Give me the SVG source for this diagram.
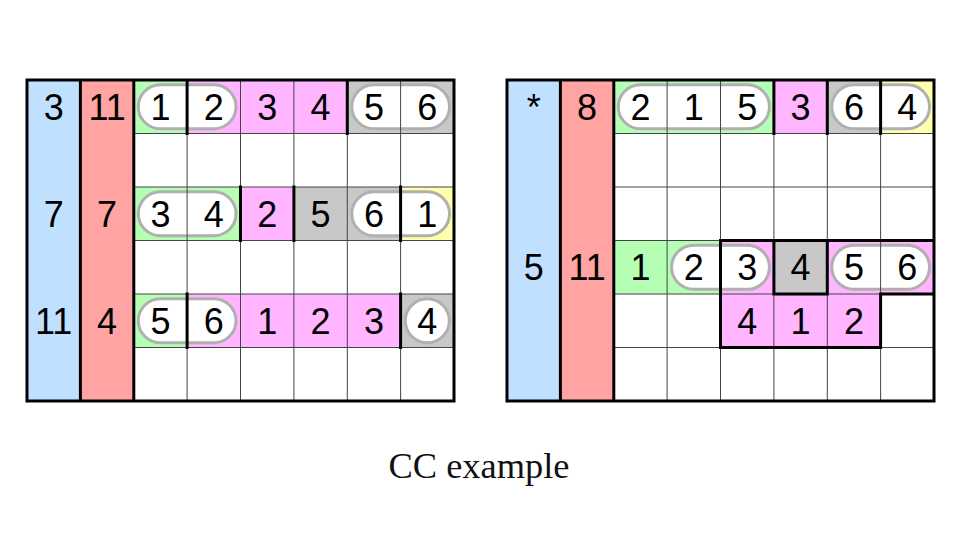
<svg xmlns="http://www.w3.org/2000/svg" width="960" height="540" viewBox="0 0 960 540">
<style>
.bl{fill:#bfe1ff}.rd{fill:#ffa3a3}.gr{fill:#b5ffb5}.pk{fill:#ffb5ff}.gy{fill:#c8c8c8}.ye{fill:#ffffad}
.pill{fill:#fff;stroke:#b0b0b0;stroke-width:3}
.thin{stroke:#444;stroke-width:1;fill:none}
.thick{stroke:#000;stroke-width:3;fill:none;stroke-linecap:square}
.n{font-family:"Liberation Sans",Arial,sans-serif;font-size:36px;fill:#000;text-anchor:middle}
.cap{font-family:"Liberation Serif","Times New Roman",serif;font-size:35px;fill:#111;text-anchor:middle}
</style>
<rect width="960" height="540" fill="#fff"/>

<g id="left-grid">
  <g id="left-fills">
    <rect class="bl" x="27" y="80" width="53.4" height="321"/>
    <rect class="rd" x="80.4" y="80" width="53.4" height="321"/>
    <rect class="gr" x="133.8" y="80" width="53.4" height="53.5"/>
    <rect class="pk" x="187.1" y="80" width="160.2" height="53.5"/>
    <rect class="gy" x="347.3" y="80" width="106.7" height="53.5"/>
    <rect class="gr" x="133.8" y="187" width="106.7" height="53.5"/>
    <rect class="pk" x="240.5" y="187" width="53.4" height="53.5"/>
    <rect class="gy" x="293.9" y="187" width="106.7" height="53.5"/>
    <rect class="ye" x="400.6" y="187" width="53.4" height="53.5"/>
    <rect class="gr" x="133.8" y="294" width="53.4" height="53.5"/>
    <rect class="pk" x="187.1" y="294" width="213.5" height="53.5"/>
    <rect class="gy" x="400.6" y="294" width="53.4" height="53.5"/>
  </g>
  <g id="left-pills">
    <rect class="pill" x="138.3" y="84.75" width="97.7" height="44" rx="22"/>
    <rect class="pill" x="351.8" y="84.75" width="97.7" height="44" rx="22"/>
    <rect class="pill" x="138.3" y="191.75" width="97.7" height="44" rx="22"/>
    <rect class="pill" x="351.8" y="191.75" width="97.7" height="44" rx="22"/>
    <rect class="pill" x="138.3" y="298.75" width="97.7" height="44" rx="22"/>
    <circle class="pill" cx="427.3" cy="320.75" r="22"/>
  </g>
  <path class="thin" d="M133.8,133.5H454M133.8,187H454M133.8,240.5H454M133.8,294H454M133.8,347.5H454M187.1,80V401M240.5,80V401M293.9,80V401M347.3,80V401M400.6,80V401"/>
  <path class="thick" d="M27,80H454V401H27ZM80.4,80V401M133.8,80V401M187.1,80V133.5M347.3,80V133.5M240.5,187V240.5M293.9,187V240.5M400.6,187V240.5M187.1,294V347.5M400.6,294V347.5"/>
  <g id="left-text">
    <text class="n" x="53.7" y="119.75">3</text>
    <text class="n" x="53.7" y="226.75">7</text>
    <text class="n" x="53.7" y="333.75">11</text>
    <text class="n" x="107.1" y="119.75">11</text>
    <text class="n" x="107.1" y="226.75">7</text>
    <text class="n" x="107.1" y="333.75">4</text>
    <text class="n" x="160.4" y="119.75">1</text>
    <text class="n" x="213.8" y="119.75">2</text>
    <text class="n" x="267.2" y="119.75">3</text>
    <text class="n" x="320.6" y="119.75">4</text>
    <text class="n" x="374" y="119.75">5</text>
    <text class="n" x="427.3" y="119.75">6</text>
    <text class="n" x="160.4" y="226.75">3</text>
    <text class="n" x="213.8" y="226.75">4</text>
    <text class="n" x="267.2" y="226.75">2</text>
    <text class="n" x="320.6" y="226.75">5</text>
    <text class="n" x="374" y="226.75">6</text>
    <text class="n" x="427.3" y="226.75">1</text>
    <text class="n" x="160.4" y="333.75">5</text>
    <text class="n" x="213.8" y="333.75">6</text>
    <text class="n" x="267.2" y="333.75">1</text>
    <text class="n" x="320.6" y="333.75">2</text>
    <text class="n" x="374" y="333.75">3</text>
    <text class="n" x="427.3" y="333.75">4</text>
  </g>
</g>

<g id="right-grid">
  <g id="right-fills">
    <rect class="bl" x="507" y="80" width="53.4" height="321"/>
    <rect class="rd" x="560.4" y="80" width="53.4" height="321"/>
    <rect class="gr" x="613.8" y="80" width="160.1" height="53.5"/>
    <rect class="pk" x="773.9" y="80" width="53.4" height="53.5"/>
    <rect class="gy" x="827.3" y="80" width="53.3" height="53.5"/>
    <rect class="ye" x="880.6" y="80" width="53.4" height="53.5"/>
    <rect class="gr" x="613.8" y="240.5" width="106.7" height="53.5"/>
    <rect class="pk" x="720.5" y="240.5" width="53.4" height="53.5"/>
    <rect class="gy" x="773.9" y="240.5" width="53.4" height="53.5"/>
    <rect class="pk" x="827.3" y="240.5" width="106.7" height="53.5"/>
    <rect class="pk" x="720.5" y="294" width="160.1" height="53.5"/>
  </g>
  <g id="right-pills">
    <rect class="pill" x="618.3" y="84.75" width="151.1" height="44" rx="22"/>
    <rect class="pill" x="831.8" y="84.75" width="97.7" height="44" rx="22"/>
    <rect class="pill" x="671.6" y="245.25" width="97.8" height="44" rx="22"/>
    <rect class="pill" x="831.8" y="245.25" width="97.7" height="44" rx="22"/>
  </g>
  <path class="thin" d="M613.8,133.5H934M613.8,187H934M613.8,240.5H934M613.8,294H934M613.8,347.5H934M667.1,80V401M720.5,80V401M773.9,80V401M827.3,80V401M880.6,80V401"/>
  <path class="thick" d="M507,80H934V401H507ZM560.4,80V401M613.8,80V401M773.9,80V133.5M827.3,80V133.5M880.6,80V133.5M720.5,347.5V240.5H934M773.9,240.5V294H827.3V240.5M880.6,294H934M880.6,294V347.5H720.5"/>
  <g id="right-text">
    <text class="n" x="533.7" y="119.75">*</text>
    <text class="n" x="533.7" y="280.25">5</text>
    <text class="n" x="587.1" y="119.75">8</text>
    <text class="n" x="587.1" y="280.25">11</text>
    <text class="n" x="640.4" y="119.75">2</text>
    <text class="n" x="693.8" y="119.75">1</text>
    <text class="n" x="747.2" y="119.75">5</text>
    <text class="n" x="800.6" y="119.75">3</text>
    <text class="n" x="854" y="119.75">6</text>
    <text class="n" x="907.3" y="119.75">4</text>
    <text class="n" x="640.4" y="280.25">1</text>
    <text class="n" x="693.8" y="280.25">2</text>
    <text class="n" x="747.2" y="280.25">3</text>
    <text class="n" x="800.6" y="280.25">4</text>
    <text class="n" x="854" y="280.25">5</text>
    <text class="n" x="907.3" y="280.25">6</text>
    <text class="n" x="747.2" y="333.75">4</text>
    <text class="n" x="800.6" y="333.75">1</text>
    <text class="n" x="854" y="333.75">2</text>
  </g>
</g>

<text id="caption" class="cap" x="479" y="478" textLength="181" lengthAdjust="spacingAndGlyphs">CC example</text>
</svg>
